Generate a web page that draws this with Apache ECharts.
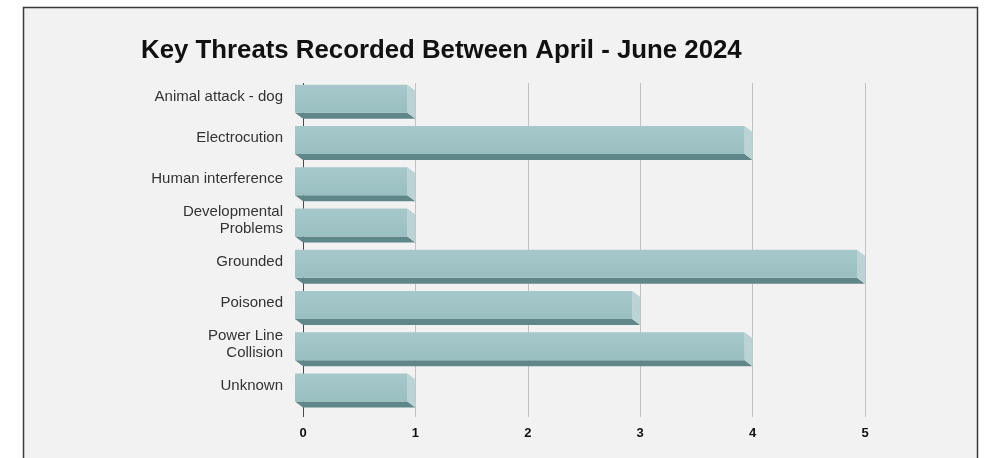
<!DOCTYPE html>
<html>
<head>
<meta charset="utf-8">
<script src="https://cdn.jsdelivr.net/npm/echarts@6/dist/echarts.min.js"></script>
<style>
  html, body { margin: 0; padding: 0; background: #ffffff; }
  #chart { width: 984px; height: 458px; }
</style>
</head>
<body>
<div id="chart"></div>
<script>
// Threat categories, top to bottom
const categories = [
  'Animal attack - dog',
  'Electrocution',
  'Human interference',
  'Developmental\nProblems',
  'Grounded',
  'Poisoned',
  'Power Line\nCollision',
  'Unknown'
];
// Number of recorded cases per threat
const counts = [1, 4, 1, 1, 5, 3, 4, 1];
const xTicks = [0, 1, 2, 3, 4, 5];

const chart = echarts.init(document.getElementById('chart'));

// 3D bar: front face shifted up-left from the back wall, with a dark floor face and a side face
const DX = 8, DY = 6;
function renderBar(params, api) {
  const cat = api.value(0);
  const val = api.value(1);
  const p0 = api.coord([0, cat]);
  const p1 = api.coord([val, cat]);
  const X0 = p0[0], X1 = p1[0], c = p0[1];
  const yt = c - 6, yb = c + 22;          // back face
  const fx0 = X0 - DX, fx1 = X1 - DX;      // front face
  const fyt = yt - DY, fyb = yb - DY;
  return {
    type: 'group',
    children: [
      { type: 'polygon', shape: { points: [[fx0, fyb], [fx1, fyb], [X1, yb], [X0, yb]] },
        style: { fill: '#5f8688' } },
      { type: 'polygon', shape: { points: [[fx1, fyt], [X1, yt], [X1, yb], [fx1, fyb]] },
        style: { fill: '#bcd3d5' } },
      { type: 'rect', shape: { x: fx0, y: fyt, width: fx1 - fx0, height: fyb - fyt },
        style: { fill: new echarts.graphic.LinearGradient(0, 0, 0, 1, [
          { offset: 0, color: '#a6c8ca' },
          { offset: 0.5, color: '#a0c4c6' },
          { offset: 1, color: '#9abfc1' }
        ]) } }
    ]
  };
}

const option = {
  animation: false,
  backgroundColor: '#ffffff',
  graphic: [
    { type: 'rect', z: -10, silent: true,
      shape: { x: 23.5, y: 7.5, width: 954, height: 460 },
      style: { fill: '#f2f2f2', stroke: '#3a3a3a', lineWidth: 1.5 } }
  ],
  title: {
    text: 'Key Threats Recorded Between April - June 2024',
    left: 136, top: 33,
    textStyle: { fontFamily: 'Liberation Sans, Arial, sans-serif', fontWeight: 'bold',
      fontSize: 25.8, color: '#111111' }
  },
  grid: [
    { left: 303, right: 119, top: 83, bottom: 41 },
    { left: 303, right: 119, top: 76, bottom: 52 }
  ],
  xAxis: [
    { type: 'value', gridIndex: 0, min: 0, max: 5, interval: 1,
      axisLine: { show: false }, axisTick: { show: false },
      axisLabel: { margin: 10, color: '#111', fontWeight: 'bold', fontSize: 13,
        fontFamily: 'Liberation Sans, Arial, sans-serif',
        formatter: v => xTicks.includes(v) ? String(v) : '' },
      splitLine: { show: true, lineStyle: { width: 1,
        color: ['#4a4a4a', '#c2c2c2', '#c2c2c2', '#c2c2c2', '#c2c2c2', '#c2c2c2'] } } },
    { type: 'value', gridIndex: 1, min: 0, max: 5, interval: 1, show: false }
  ],
  yAxis: [
    { type: 'value', gridIndex: 0, show: false },
    { type: 'category', gridIndex: 1, data: categories, inverse: true,
      axisLine: { show: false }, axisTick: { show: false },
      axisLabel: { margin: 20, color: '#333', fontSize: 15, lineHeight: 17,
        fontFamily: 'Liberation Sans, Arial, sans-serif', align: 'right' },
      splitLine: { show: false } }
  ],
  series: [{
    type: 'custom',
    xAxisIndex: 1, yAxisIndex: 1,
    renderItem: renderBar,
    encode: { x: 1, y: 0 },
    data: counts.map((v, i) => [i, v]),
    z: 5
  }]
};
chart.setOption(option);
</script>
</body>
</html>
